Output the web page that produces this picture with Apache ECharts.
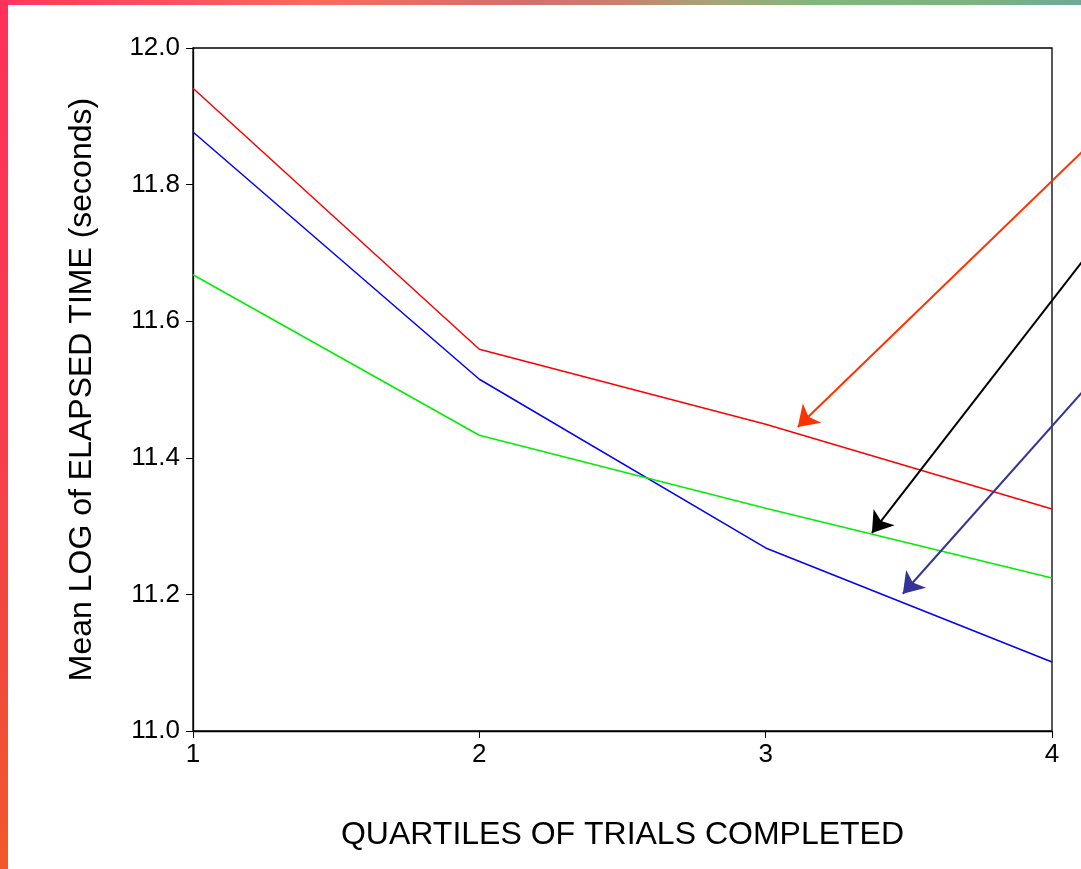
<!DOCTYPE html>
<html>
<head>
<meta charset="utf-8">
<script src="https://cdn.jsdelivr.net/npm/echarts@6/dist/echarts.min.js"></script>
<style>
html,body{margin:0;padding:0;background:#fff;}
#wrap{position:relative;width:1081px;height:869px;overflow:hidden;background:#fff;}
#topbar{position:absolute;left:0;top:0;width:1081px;height:5px;
 background:linear-gradient(to right,#ff3560 0%,#fb6a5e 30%,#d2706a 48%,#c4846e 58%,#a6a478 66%,#80b87c 76%,#7ab580 90%,#70a897 100%);z-index:2;}
#leftbar{position:absolute;left:0;top:0;width:8px;height:869px;
 background:linear-gradient(to bottom,#ff305a 0%,#f83e4e 50%,#f04a3c 75%,#f05a2a 100%);z-index:2;}
#chart{position:absolute;left:0;top:0;width:1081px;height:869px;}
</style>
</head>
<body>
<div id="wrap">
<div id="topbar"></div>
<div id="leftbar"></div>
<div id="chart"></div>
</div>
<script>
// Data
const quartiles = [1, 2, 3, 4];
const redSeries   = [11.941, 11.559, 11.449, 11.325];
const blueSeries  = [11.877, 11.515, 11.268, 11.101];
const greenSeries = [11.668, 11.433, 11.326, 11.224];
const yTicks = [11.0, 11.2, 11.4, 11.6, 11.8, 12.0];
// Annotation arrows: [tailX, tailY, tipX, tipY] in data units
const redArrow   = [4.105, 11.848, 3.112, 11.445];
const blackArrow = [4.105, 11.687, 3.371, 11.290];
const navyArrow  = [4.105, 11.496, 3.479, 11.201];

const pairs = ys => quartiles.map((q, i) => [q, ys[i]]);
const arrow = (a, color) => ({
  coords: [[a[0], a[1]], [a[2], a[3]]],
  lineStyle: { color: color, width: 2, type: 'solid', opacity: 1 }
});

const chart = echarts.init(document.getElementById('chart'));
const font = 'Liberation Sans, Arial, sans-serif';
chart.setOption({
  animation: false,
  grid: { left: 193, right: 29, top: 48, bottom: 138, show: true, borderColor: '#000', borderWidth: 1.3, backgroundColor: 'transparent' },
  xAxis: {
    type: 'value', min: 1, max: 4, interval: 1,
    name: 'QUARTILES OF TRIALS COMPLETED', nameLocation: 'middle', nameGap: 88,
    nameTextStyle: { fontFamily: font, fontSize: 32, color: '#000' },
    axisLine: { show: true, onZero: false, lineStyle: { color: '#000', width: 1.3 } },
    axisTick: { show: true, length: 7, lineStyle: { color: '#000' } },
    axisLabel: { fontFamily: font, fontSize: 26, color: '#000', margin: 11 },
    splitLine: { show: false }
  },
  yAxis: {
    type: 'value', min: 11.0, max: 12.0, interval: 0.2,
    name: 'Mean LOG of ELAPSED TIME (seconds)', nameLocation: 'middle', nameGap: 95, nameRotate: 90,
    nameTextStyle: { fontFamily: font, fontSize: 32, color: '#000' },
    axisLine: { show: true, lineStyle: { color: '#000', width: 1.3 } },
    axisTick: { show: true, length: 7, lineStyle: { color: '#000' } },
    axisLabel: { fontFamily: font, fontSize: 26, color: '#000', margin: 13,
      formatter: v => v.toFixed(1) },
    splitLine: { show: false }
  },
  series: [
    { type: 'line', data: pairs(redSeries), showSymbol: false,
      lineStyle: { color: '#ff0000', width: 1.5 }, itemStyle: { color: '#ff0000' } },
    { type: 'line', data: pairs(blueSeries), showSymbol: false, lineStyle: { color: '#0000ff', width: 1.5 }, itemStyle: { color: '#0000ff' } },
    { type: 'line', data: pairs(greenSeries), showSymbol: false, lineStyle: { color: '#00ee00', width: 1.5 }, itemStyle: { color: '#00ee00' } },
    { type: 'lines', coordinateSystem: 'cartesian2d', clip: false, silent: true, z: 5,
      symbol: ['none', 'arrow'], symbolSize: 20,
      lineStyle: { width: 2, opacity: 1, curveness: 0 },
      data: [arrow(redArrow, '#ff3300'), arrow(blackArrow, '#000000'), arrow(navyArrow, '#333399')]
    }
  ]
});
</script>
</body>
</html>
